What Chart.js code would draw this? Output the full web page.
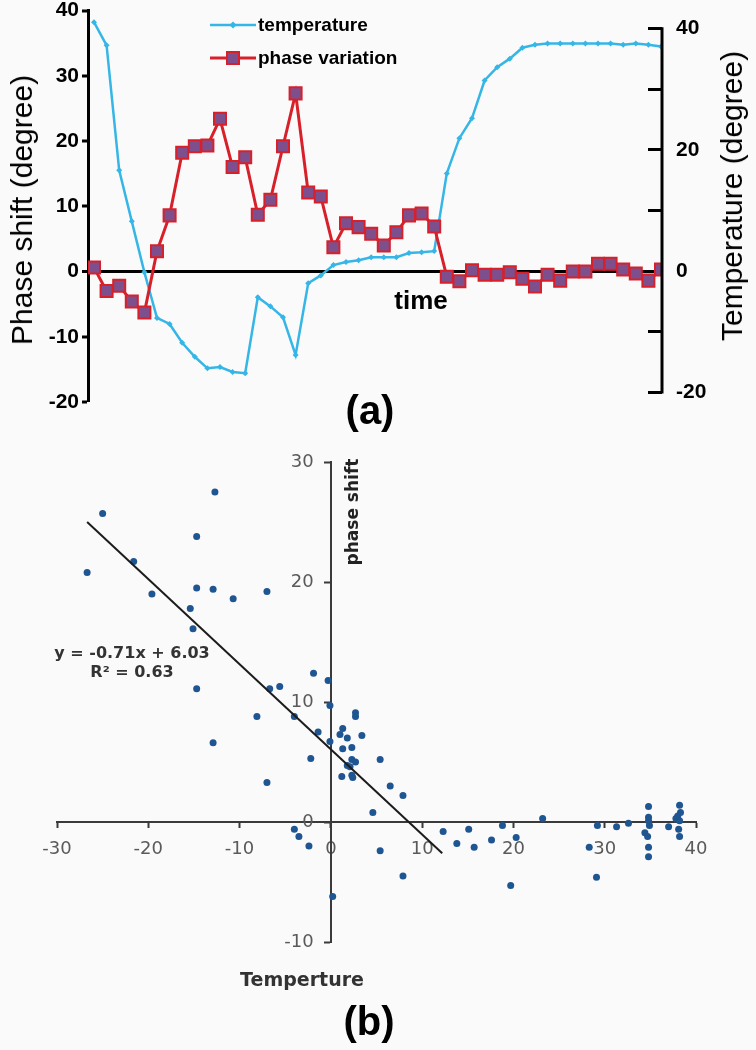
<!DOCTYPE html>
<html>
<head>
<meta charset="utf-8">
<script src="https://cdn.jsdelivr.net/npm/chart.js@4.4.1/dist/chart.umd.min.js"></script>
<style>
    body { margin: 0; background: #fafafa; }
    #page { position: relative; width: 756px; height: 1050px; overflow: hidden; background: #fafafa; }
    canvas { position: absolute; left: 0; }
    #chartA { top: 0; }
    #chartB { top: 440px; }
    .lbl { position: absolute; white-space: nowrap; transform: translate(-50%, -50%); line-height: 1; }
    .rot { transform: translate(-50%, -50%) rotate(-90deg); }
    .arial { font-family: "Liberation Sans", Arial, sans-serif; color: #000; }
    .verd { font-family: "DejaVu Sans", Verdana, sans-serif; font-weight: bold; }
</style>
</head>
<body>
<div id="page">
    <canvas id="chartA" width="756" height="440"></canvas>
    <canvas id="chartB" width="756" height="610"></canvas>

    <div class="lbl rot arial" style="left:22px; top:210px; font-size:30px;">Phase shift (degree)</div>
    <div class="lbl rot arial" style="left:732px; top:196px; font-size:30px;">Temperature (degree)</div>
    <div class="lbl arial" style="left:421px; top:300px; font-size:26px; font-weight:bold;">time</div>
    <div class="lbl arial" style="left:370px; top:410px; font-size:40px; font-weight:bold;">(a)</div>

    <div class="lbl rot verd" style="left:352px; top:512px; font-size:17px; color:#222;">phase shift</div>
    <div class="lbl verd" style="left:302px; top:979px; font-size:19px; color:#333;">Temperture</div>
    <div class="lbl verd" style="left:132px; top:662px; font-size:16px; color:#333; text-align:center; line-height:19px;">y = -0.71x + 6.03<br>R² = 0.63</div>
    <div class="lbl arial" style="left:369px; top:1021px; font-size:40px; font-weight:bold;">(b)</div>
</div>

<script>
// ---- (a) time series, one value per time step ----
const phaseVariation = [0.6, -3.0, -2.2, -4.6, -6.3, 3.1, 8.6, 18.2, 19.2, 19.3,
    23.4, 16.0, 17.5, 8.7, 11.0, 19.2, 27.3, 12.1, 11.5, 3.7,
    7.4, 6.8, 5.8, 4.0, 6.0, 8.6, 8.9, 6.9, -0.8, -1.5,
    0.2, -0.5, -0.5, -0.1, -1.1, -2.3, -0.5, -1.4, 0.0, 0.0,
    1.2, 1.2, 0.3, -0.3, -1.4, 0.3];
const temperature = [41.0, 37.2, 16.6, 8.2, -0.2, -7.7, -8.7, -11.8, -14.1, -16.0,
    -15.8, -16.6, -16.8, -4.3, -5.8, -7.6, -13.8, -2.0, -0.7, 1.0,
    1.5, 1.8, 2.3, 2.3, 2.3, 3.0, 3.1, 3.3, 16.1, 21.9,
    25.2, 31.4, 33.6, 35.0, 36.8, 37.3, 37.5, 37.5, 37.5, 37.5,
    37.5, 37.5, 37.3, 37.5, 37.3, 37.0];
const timeSteps = phaseVariation.map((_, i) => i);

// right axis: tick marks every 10, labels every 20
const rightTickValues = [-20, -10, 0, 10, 20, 30, 40];
const rightTickLabels = [-20, 0, 20, 40];

// ---- (b) scatter: temperature vs phase shift ----
const scatterTemp = [-25.0, -26.7, -21.6, -19.6, -12.7, -14.7, -14.7, -12.9, -10.7, -7.0,
    -15.4, -15.1, -14.7, -6.7, -5.6, -1.9, -0.3, -0.1, -8.1, -4.0,
    2.7, 2.7, -1.4, 1.3, 1.0, 1.8, 3.4, -0.1, 1.3, 2.3,
    -2.2, 2.3, 2.7, 5.4, 1.8, 2.1, 1.2, 2.3, 2.4, -7.0,
    6.5, 7.9, 4.6, -4.0, -3.5, -2.4, 5.4, 0.2, 7.9, -12.9,
    12.3, 13.8, 15.1, 15.7, 17.6, 18.8, 20.3, 19.7, 23.2, 28.3,
    29.2, 29.1, 31.3, 32.6, 34.8, 34.8, 34.8, 34.9, 34.4, 34.7,
    34.8, 34.8, 37.0, 38.2, 38.3, 38.0, 37.8, 38.2, 38.1, 38.2];
const scatterPhase = [25.7, 20.8, 21.7, 19.0, 27.5, 23.8, 19.5, 19.4, 18.6, 19.2,
    17.8, 16.1, 11.1, 11.1, 11.3, 12.4, 11.8, 9.7, 8.8, 8.8,
    9.1, 8.8, 7.5, 7.8, 7.3, 7.0, 7.2, 6.7, 6.1, 6.2,
    5.3, 5.2, 5.0, 5.2, 4.7, 4.6, 3.8, 3.9, 3.7, 3.3,
    3.0, 2.2, 0.8, -0.6, -1.2, -2.0, -2.4, -6.2, -4.5, 6.6,
    -0.8, -1.8, -0.6, -2.1, -1.5, -0.3, -1.3, -5.3, 0.3, -2.1,
    -0.3, -4.6, -0.4, -0.1, 1.3, 0.4, 0.1, -0.3, -0.9, -1.2,
    -2.1, -2.9, -0.4, 1.4, 0.8, 0.5, 0.3, 0.1, -0.6, -1.2];
// linear trend line end points
const trendTemp = [-26.7, 12.2];
const trendPhase = [25.0, -2.6];

const fontA = '"Liberation Sans", Arial, sans-serif';
const fontB = '"DejaVu Sans", Verdana, sans-serif';

document.addEventListener('DOMContentLoaded', function() {
    // legend rows and the short right axis line for chart (a)
    const chartADecor = {
        id: 'chartADecor',
        afterDraw(chart) {
            const ctx = chart.ctx;
            const y1 = chart.scales.y1;
            ctx.save();
            ctx.strokeStyle = '#000';
            ctx.lineWidth = 3;
            ctx.beginPath();
            ctx.moveTo(y1.left, y1.getPixelForValue(40) - 1);
            ctx.lineTo(y1.left, y1.getPixelForValue(-20) + 1);
            ctx.stroke();

            const rows = [{ index: 0, y: 25 }, { index: 1, y: 58 }];
            rows.forEach(function(row) {
                const ds = chart.data.datasets[row.index];
                ctx.strokeStyle = ds.borderColor;
                ctx.lineWidth = ds.borderWidth;
                ctx.beginPath();
                ctx.moveTo(210, row.y);
                ctx.lineTo(256, row.y);
                ctx.stroke();
                if (ds.pointStyle === 'rect') {
                    ctx.fillStyle = ds.pointBackgroundColor;
                    ctx.strokeStyle = ds.pointBorderColor;
                    ctx.lineWidth = ds.pointBorderWidth;
                    ctx.fillRect(227, row.y - 6, 12, 12);
                    ctx.strokeRect(227, row.y - 6, 12, 12);
                } else {
                    ctx.fillStyle = ds.borderColor;
                    ctx.beginPath();
                    ctx.moveTo(233, row.y - 3.5);
                    ctx.lineTo(236.5, row.y);
                    ctx.lineTo(233, row.y + 3.5);
                    ctx.lineTo(229.5, row.y);
                    ctx.closePath();
                    ctx.fill();
                }
                ctx.fillStyle = '#000';
                ctx.font = 'bold 19px ' + fontA;
                ctx.textBaseline = 'middle';
                ctx.fillText(ds.label, 258, row.y + 1);
            });
            ctx.restore();
        }
    };

    // (a) Phase shift and temperature over time
    const ctxA = document.getElementById('chartA').getContext('2d');
    new Chart(ctxA, {
        type: 'line',
        data: {
            labels: timeSteps,
            datasets: [{
                label: 'temperature',
                data: temperature,
                yAxisID: 'y1',
                borderColor: '#35b6e6',
                backgroundColor: '#35b6e6',
                borderWidth: 2.5,
                pointStyle: 'rectRot',
                pointRadius: 3,
                pointBorderWidth: 0,
                pointBackgroundColor: '#35b6e6',
                tension: 0,
                order: 2
            }, {
                label: 'phase variation',
                data: phaseVariation,
                yAxisID: 'y',
                borderColor: '#d8202a',
                borderWidth: 3,
                pointStyle: 'rect',
                pointRadius: 8.5,
                pointBackgroundColor: '#7e4f8d',
                pointBorderColor: '#d8202a',
                pointBorderWidth: 2,
                tension: 0,
                order: 1
            }]
        },
        options: {
            responsive: false,
            animation: false,
            layout: { padding: { top: 10, bottom: 38, left: 0, right: 0 } },
            plugins: { legend: { display: false }, tooltip: { enabled: false } },
            scales: {
                x: { type: 'linear', display: false, min: -0.476, max: 45.08 },
                y: {
                    position: 'left',
                    min: -20,
                    max: 40,
                    ticks: { stepSize: 10, color: '#000', padding: 3, font: { family: fontA, size: 21, weight: 'bold' } },
                    grid: {
                        drawOnChartArea: true,
                        color: c => (c.tick && c.tick.value === 0) ? '#000' : 'rgba(0,0,0,0)',
                        lineWidth: c => (c.tick && c.tick.value === 0) ? 3 : 0,
                        tickColor: '#000',
                        tickWidth: 3,
                        tickLength: 6
                    },
                    border: { color: '#000', width: 3 },
                    afterFit: s => { s.width = 88; s.paddingTop = 0; s.paddingBottom = 0; }
                },
                y1: {
                    position: 'right',
                    min: -21.55,
                    max: 42.93,
                    afterBuildTicks: s => { s.ticks = rightTickValues.map(v => ({ value: v })); },
                    ticks: {
                        color: '#000',
                        padding: 28,
                        font: { family: fontA, size: 21, weight: 'bold' },
                        callback: v => rightTickLabels.includes(v) ? String(v) : ''
                    },
                    grid: { drawOnChartArea: false, tickLength: -14, tickWidth: 3, tickColor: '#000' },
                    border: { display: false },
                    afterFit: s => { s.width = 94; s.paddingTop = 0; s.paddingBottom = 0; }
                }
            }
        },
        plugins: [chartADecor]
    });

    // (b) Phase shift against temperature with trend line
    const ctxB = document.getElementById('chartB').getContext('2d');
    new Chart(ctxB, {
        type: 'scatter',
        data: {
            datasets: [{
                type: 'line',
                label: 'trend',
                data: trendTemp.map((t, i) => ({ x: t, y: trendPhase[i] })),
                borderColor: '#1c1c1c',
                borderWidth: 2,
                pointRadius: 0,
                fill: false
            }, {
                label: 'phase shift',
                data: scatterTemp.map((t, i) => ({ x: t, y: scatterPhase[i] })),
                backgroundColor: '#1f5591',
                pointRadius: 3.5,
                pointBorderWidth: 0
            }]
        },
        options: {
            responsive: false,
            animation: false,
            layout: { padding: { top: 22, bottom: 108, left: 57, right: 60 } },
            plugins: { legend: { display: false }, tooltip: { enabled: false } },
            scales: {
                x: {
                    type: 'linear',
                    min: -30,
                    max: 40,
                    position: { y: 0 },
                    ticks: { stepSize: 10, color: '#5a5a5a', padding: 12, font: { family: fontB, size: 18 } },
                    grid: { drawOnChartArea: false, tickLength: 5, tickWidth: 2, tickColor: '#3a3a3a' },
                    border: { color: '#3a3a3a', width: 2 },
                    afterFit: s => { s.height = 0; }
                },
                y: {
                    type: 'linear',
                    min: -10,
                    max: 30,
                    position: { x: 0 },
                    // labels sit right-aligned on the crossing axis, so pad them with spaces
                    ticks: { stepSize: 10, color: '#5a5a5a', font: { family: fontB, size: 18 }, callback: v => v + '   ' },
                    grid: { drawOnChartArea: false, tickLength: 6, tickWidth: 2, tickColor: '#3a3a3a' },
                    border: { color: '#3a3a3a', width: 2 },
                    afterFit: s => { s.width = 0; }
                }
            }
        }
    });
});
</script>
</body>
</html>
